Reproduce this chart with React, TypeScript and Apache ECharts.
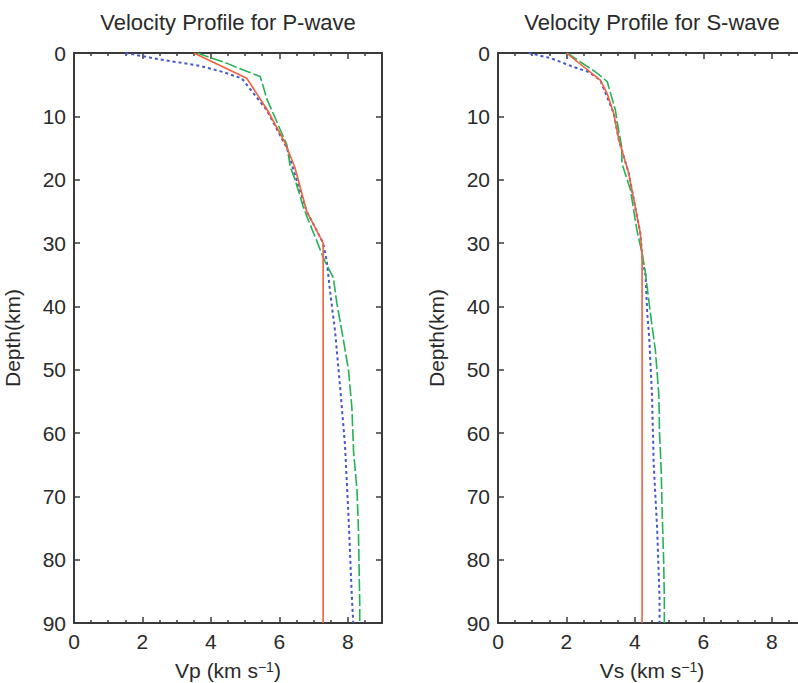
import React, { useEffect, useRef } from "react";
import * as echarts from "echarts";

// P-wave profiles (depth km, velocity km/s)
const pRedDepth = [0, 4, 9, 14, 18, 25, 30, 90];
const pRedVel = [3.5, 5.05, 5.65, 6.15, 6.45, 6.8, 7.28, 7.28];
const pBlueDepth = [0, 1, 2, 3, 4, 9, 15, 20, 25, 30, 33, 38, 44, 53, 62, 73, 86, 90];
const pBlueVel = [1.5, 2.5, 3.65, 4.35, 4.9, 5.63, 6.22, 6.5, 6.8, 7.28, 7.39, 7.49, 7.63, 7.78, 7.92, 8.02, 8.12, 8.16];
const pGreenDepth = [0, 1.6, 2.4, 3.7, 5.1, 7.2, 14.5, 18, 20, 24.3, 26.4, 31, 33, 35.5, 39.5, 44, 50, 56, 63, 69, 75, 81, 87, 90];
const pGreenVel = [3.6, 4.46, 4.8, 5.44, 5.52, 5.63, 6.22, 6.32, 6.46, 6.7, 6.85, 7.19, 7.34, 7.58, 7.68, 7.83, 8.02, 8.12, 8.17, 8.27, 8.31, 8.33, 8.35, 8.35];

// S-wave profiles
const sRedDepth = [0, 4.3, 6.4, 9.5, 13.7, 19, 28.5, 32, 90];
const sRedVel = [2.0, 2.99, 3.19, 3.38, 3.53, 3.82, 4.16, 4.21, 4.21];
const sBlueDepth = [0, 0.8, 2.2, 3, 4.3, 9.5, 13.7, 19, 28.5, 33, 35, 41, 45, 54, 65, 75, 86, 90];
const sBlueVel = [0.9, 1.53, 2.21, 2.65, 2.99, 3.38, 3.53, 3.82, 4.16, 4.23, 4.31, 4.36, 4.42, 4.5, 4.55, 4.65, 4.72, 4.72];
const sGreenDepth = [0, 3, 4.5, 9, 10.8, 15, 17.4, 21.6, 28, 31.6, 34.8, 41, 45, 47, 54, 60, 66, 73, 80, 86, 90];
const sGreenVel = [2.02, 2.85, 3.19, 3.43, 3.48, 3.62, 3.62, 3.87, 4.06, 4.21, 4.31, 4.45, 4.55, 4.6, 4.7, 4.72, 4.77, 4.8, 4.84, 4.86, 4.86];

const titles = ["Velocity Profile for P-wave", "Velocity Profile for S-wave"];
const xNames = ["Vp", "Vs"];
const yName = "Depth(km)";

const FONT = "'Liberation Sans', Arial, sans-serif";
const TEXT = "#2a2a2a";
const FRAME = "#3a3a3a";

const pairs = (v: number[], d: number[]) => v.map((x, i) => [x, d[i]]);

export default function App() {
  const ref = useRef<HTMLDivElement>(null);
  useEffect(() => {
    if (!ref.current) return;
    const chart = echarts.init(ref.current, null, { renderer: "svg" });
    const grids = [
      { left: 74, top: 53, width: 308, height: 570, outerBoundsMode: "none", containLabel: false },
      { left: 498, top: 53, width: 308, height: 570, outerBoundsMode: "none", containLabel: false },
    ];
    const xAxes: any[] = [];
    const yAxes: any[] = [];
    grids.forEach((g, gi) => {
      const common = {
        type: "value",
        gridIndex: gi,
        min: 0,
        max: 9,
        interval: 2,
        axisLine: { show: true, onZero: false, lineStyle: { color: FRAME, width: 2 } },
        axisTick: { show: true, inside: true, length: 6, lineStyle: { color: FRAME, width: 1.5 } },
        minorTick: { show: true, splitNumber: 4, length: 3, lineStyle: { color: FRAME, width: 1.5 } },
        splitLine: { show: false },
      };
      xAxes.push({
        ...common,
        position: "bottom",
        name: `${xNames[gi]} (km s{sup|\u22121})`,
        nameLocation: "middle",
        nameGap: 36,
        nameTextStyle: {
          fontSize: 21,
          lineHeight: 22,
          color: TEXT,
          fontFamily: FONT,
          rich: { sup: { fontSize: 14, lineHeight: 22, color: TEXT, fontFamily: FONT, padding: [0, 0, 7, 0] } },
        },
        axisLabel: { show: true, fontSize: 21, color: TEXT, fontFamily: FONT, margin: 8, showMaxLabel: false },
      });
      xAxes.push({ ...common, position: "top", axisLabel: { show: false } });
      const ycommon = {
        type: "value",
        gridIndex: gi,
        min: 0,
        max: 90,
        interval: 10,
        inverse: true,
        axisLine: { show: true, onZero: false, lineStyle: { color: FRAME, width: 2 } },
        axisTick: { show: true, inside: true, length: 6, lineStyle: { color: FRAME, width: 1.5 } },
        splitLine: { show: false },
      };
      yAxes.push({
        ...ycommon,
        position: "left",
        name: yName,
        nameLocation: "middle",
        nameGap: 51,
        nameTextStyle: { fontSize: 21, color: TEXT, fontFamily: FONT },
        axisLabel: { show: true, fontSize: 21, color: TEXT, fontFamily: FONT, margin: 8 },
      });
      yAxes.push({ ...ycommon, position: "right", axisLabel: { show: false } });
    });

    const red = { color: "#f2603e", width: 1.6, type: "solid" };
    const blue = { color: "#4756c8", width: 2, type: [3, 3] };
    const green = { color: "#25b257", width: 1.6, type: [12, 3] };
    const mk = (data: number[][], style: any, gi: number) => ({
      type: "line",
      xAxisIndex: gi * 2,
      yAxisIndex: gi * 2,
      data,
      showSymbol: false,
      symbol: "none",
      lineStyle: style,
      z: style === red ? 3 : 2,
    });
    const series = [
      mk(pairs(pBlueVel, pBlueDepth), blue, 0),
      mk(pairs(pGreenVel, pGreenDepth), green, 0),
      mk(pairs(pRedVel, pRedDepth), red, 0),
      mk(pairs(sBlueVel, sBlueDepth), blue, 1),
      mk(pairs(sGreenVel, sGreenDepth), green, 1),
      mk(pairs(sRedVel, sRedDepth), red, 1),
    ];

    chart.setOption({
      animation: false,
      backgroundColor: "#ffffff",
      grid: grids,
      xAxis: xAxes,
      yAxis: yAxes,
      series,
      graphic: titles.map((t, i) => ({
        type: "text",
        x: grids[i].left + grids[i].width / 2,
        y: 22,
        style: {
          text: t,
          fontSize: 22,
          fontFamily: FONT,
          fill: TEXT,
          align: "center",
          verticalAlign: "middle",
        },
      })),
    });
    return () => chart.dispose();
  }, []);
  return (
    <div
      ref={ref}
      style={{ position: "absolute", left: 0, top: 0, width: 798, height: 683 }}
    />
  );
}
